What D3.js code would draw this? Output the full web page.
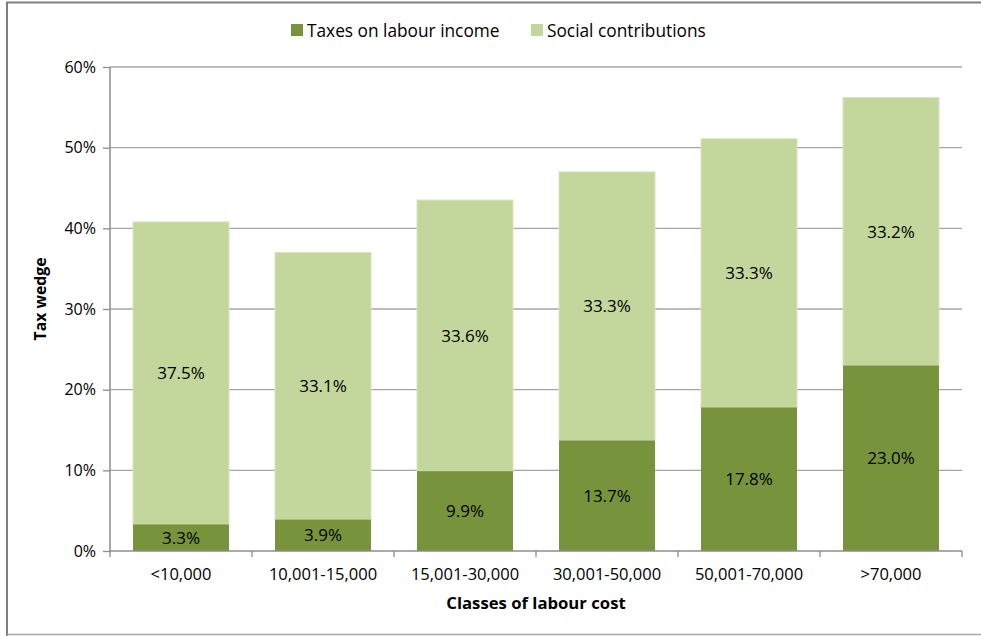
<!DOCTYPE html>
<html><head><meta charset="utf-8">
<script src="https://cdn.jsdelivr.net/npm/d3@7"></script>
<style>
html,body{margin:0;padding:0;background:#fff;}
svg{display:block;font-family:"Open Sans",sans-serif;}
</style></head>
<body>
<svg id="chart" width="981" height="636"></svg>
<script>
const categories = ["<10,000","10,001-15,000","15,001-30,000","30,001-50,000","50,001-70,000",">70,000"];
const taxes = [3.3, 3.9, 9.9, 13.7, 17.8, 23.0];
const social = [37.5, 33.1, 33.6, 33.3, 33.3, 33.2];
const seriesNames = ["Taxes on labour income","Social contributions"];
const colors = ["#77933C","#C3D69B"];
const yTicks = [0,10,20,30,40,50,60];

const svg = d3.select("#chart");
// outer border
svg.append("path").attr("d","M7,640 V2.5 H990").attr("fill","none").attr("stroke","#7f7f7f").attr("stroke-width",2);
svg.append("line").attr("x1",7).attr("x2",990).attr("y1",634.5).attr("y2",634.5).attr("stroke","#a6a6a6").attr("stroke-width",1.5);

const pLeft=110, pRight=962, pTop=67, pBottom=551;
const x = d3.scaleBand().domain(categories).range([pLeft,pRight]).paddingInner(0.324).paddingOuter(0.162);
const y = d3.scaleLinear().domain([0,60]).range([pBottom,pTop]);

// gridlines
svg.append("g").selectAll("line").data(yTicks.filter(d=>d>0)).join("line")
  .attr("x1",pLeft).attr("x2",pRight).attr("y1",d=>y(d)).attr("y2",d=>y(d))
  .attr("stroke","#a6a6a6").attr("stroke-width",1.3);

const data = categories.map((c,i)=>({cat:c, t:taxes[i], s:social[i]}));

// bars
const g = svg.append("g");
g.selectAll("rect.s").data(data).join("rect").attr("class","s")
  .attr("x",d=>x(d.cat)).attr("width",x.bandwidth())
  .attr("y",d=>y(d.t+d.s)).attr("height",d=>y(d.t)-y(d.t+d.s))
  .attr("fill",colors[1]).attr("stroke","#d8e4bf").attr("stroke-width",1);
g.selectAll("rect.t").data(data).join("rect").attr("class","t")
  .attr("x",d=>x(d.cat)).attr("width",x.bandwidth())
  .attr("y",d=>y(d.t)).attr("height",d=>y(0)-y(d.t))
  .attr("fill",colors[0]);

// value labels
const lbl = svg.append("g").attr("font-size",17).attr("fill","#000").attr("text-anchor","middle");
lbl.selectAll("text.t").data(data).join("text").attr("class","t")
  .attr("x",d=>x(d.cat)+x.bandwidth()/2).attr("y",d=>y(d.t/2)).attr("dy","0.36em")
  .text(d=>d.t.toFixed(1)+"%");
lbl.selectAll("text.s").data(data).join("text").attr("class","s")
  .attr("x",d=>x(d.cat)+x.bandwidth()/2).attr("y",d=>y(d.t+d.s/2)).attr("dy","0.36em")
  .text(d=>d.s.toFixed(1)+"%");

// y axis
const yAxis = d3.axisLeft(y).tickValues(yTicks).tickSize(7).tickPadding(7).tickFormat(d=>d+"%");
const ya = svg.append("g").attr("transform",`translate(${pLeft},0)`).call(yAxis);
ya.select(".domain").attr("stroke","#8c8c8c").attr("stroke-width",1.5).attr("d",`M0,${pTop}V${pBottom}`);
ya.selectAll(".tick line").attr("stroke","#8c8c8c").attr("stroke-width",1.3);
ya.selectAll("text").attr("font-size",16).attr("font-family","Open Sans").attr("fill","#000");

// x axis
const xAxis = d3.axisBottom(x).tickSize(0).tickPadding(17);
const xa = svg.append("g").attr("transform",`translate(0,${pBottom})`).call(xAxis);
xa.select(".domain").attr("stroke","#8c8c8c").attr("stroke-width",1.5).attr("d",`M${pLeft},0H${pRight}`);
xa.selectAll("text").attr("font-size",16.5).attr("font-family","Open Sans").attr("fill","#000");
const bounds = categories.map(c=>x(c)-x.step()*x.paddingInner()/2).concat([pRight]);
xa.append("g").selectAll("line").data(bounds).join("line")
  .attr("x1",d=>d).attr("x2",d=>d).attr("y1",0).attr("y2",6)
  .attr("stroke","#8c8c8c").attr("stroke-width",1.3);

// axis titles
svg.append("text").attr("x",536).attr("y",609).attr("text-anchor","middle")
  .attr("font-size",16.7).attr("font-weight","bold").text("Classes of labour cost");
svg.append("text").attr("transform","translate(46,299) rotate(-90)").attr("text-anchor","middle")
  .attr("font-size",15.8).attr("font-weight","bold").text("Tax wedge");

// legend
const legend = svg.append("g").attr("font-size",17.3);
const legX = [291, 531];
seriesNames.forEach((n,i)=>{
  legend.append("rect").attr("x",legX[i]).attr("y",24).attr("width",12).attr("height",12).attr("fill",colors[i]);
  legend.append("text").attr("x",legX[i]+16).attr("y",30.5).attr("dy","0.36em").text(n);
});
</script>
</body></html>
